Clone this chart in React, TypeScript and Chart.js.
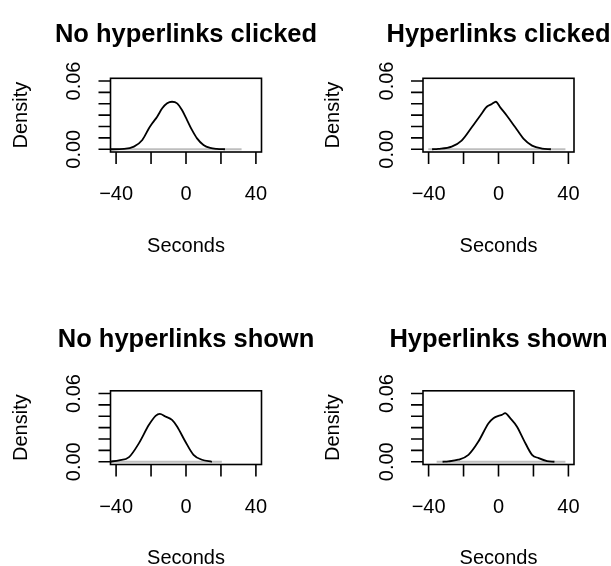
import React, { useEffect, useRef } from "react";
import { Chart, registerables } from "chart.js";

Chart.register(...registerables);

// ---- Data ----
const titles = ["No hyperlinks clicked", "Hyperlinks clicked", "No hyperlinks shown", "Hyperlinks shown"];
const xLabel = "Seconds";
const yLabel = "Density";
const xTicks = [-40, -20, 0, 20, 40];
const xTickLabels = ["\u221240", "", "0", "", "40"];
const yTicks = [0, 0.01, 0.02, 0.03, 0.04, 0.05, 0.06];
const yTickLabels = ["0.00", "", "", "", "", "", "0.06"];

const noClickX = [-43.5, -35.4, -29.8, -25.0, -21.2, -19.3, -16.5, -13.6, -10.8, -8.0, -5.1, -2.3, 0.6, 3.4, 6.3, 10.0, 13.8, 17.6, 22.3];
const noClickY = [0.0, 0.0003, 0.0023, 0.0082, 0.0184, 0.0228, 0.0287, 0.036, 0.0404, 0.0418, 0.0404, 0.0345, 0.0257, 0.017, 0.0096, 0.0038, 0.0012, 0.0003, 0.0];
const noClickZero = [-44, 31.8];

const clickX = [-38.0, -34.5, -26.8, -21.1, -15.3, -10.5, -6.7, -3.8, -1.5, 1.0, 4.8, 9.6, 14.4, 19.2, 24.9, 30.0];
const clickY = [0.0, 0.0003, 0.0023, 0.0076, 0.0193, 0.0295, 0.0374, 0.0398, 0.0418, 0.0368, 0.0295, 0.0193, 0.0091, 0.0032, 0.0006, 0.0];
const clickZero = [-40.2, 38.3];

const noShownX = [-43.5, -38.3, -32.6, -26.9, -21.2, -17.4, -15.0, -11.8, -8.0, -5.1, -0.4, 4.3, 9.1, 14.8];
const noShownY = [0.0002, 0.0012, 0.0041, 0.0164, 0.0325, 0.0404, 0.0421, 0.0398, 0.0368, 0.031, 0.0178, 0.0061, 0.0018, 0.0];
const noShownZero = [-44, 20.5];

const shownX = [-32.0, -28.7, -23.0, -17.2, -11.5, -5.7, -2.9, 0.0, 1.9, 3.8, 6.7, 10.5, 14.4, 19.2, 23.0, 27.8, 32.0];
const shownY = [0.0, 0.0003, 0.0018, 0.0061, 0.0178, 0.0339, 0.0383, 0.0404, 0.0412, 0.0427, 0.0383, 0.031, 0.0193, 0.0061, 0.0032, 0.0006, 0.0];
const shownZero = [-35.4, 38.3];

const seriesX = [noClickX, clickX, noShownX, shownX];
const seriesY = [noClickY, clickY, noShownY, shownY];
const zeroRanges = [noClickZero, clickZero, noShownZero, shownZero];

// ---- Layout ----
const W = 611;
const H = 566;
const colLeft = [110.5, 423];
const colRight = [261.5, 574];
const rowTop = [78.3, 390.8];
const rowBottom = [152, 464.5];
const FONT = "'Liberation Sans', Arial, Helvetica, sans-serif";
const TICK = 12;

const rPlot = {
  id: "rplot",
  afterDraw(chart: any, _args: any, opts: any) {
    const { ctx, chartArea: a, scales } = chart;
    const xs = scales.x;
    const ys = scales.y;
    ctx.save();
    ctx.strokeStyle = "#000";
    ctx.lineWidth = 1.6;
    ctx.strokeRect(a.left, a.top, a.right - a.left, a.bottom - a.top);
    ctx.beginPath();
    xTicks.forEach((v) => {
      const px = xs.getPixelForValue(v);
      ctx.moveTo(px, a.bottom);
      ctx.lineTo(px, a.bottom + TICK);
    });
    yTicks.forEach((v) => {
      const py = ys.getPixelForValue(v);
      ctx.moveTo(a.left, py);
      ctx.lineTo(a.left - TICK, py);
    });
    ctx.stroke();

    ctx.fillStyle = "#000";
    ctx.font = `20px ${FONT}`;
    ctx.textAlign = "center";
    ctx.textBaseline = "alphabetic";
    xTicks.forEach((v, i) => {
      if (xTickLabels[i]) ctx.fillText(xTickLabels[i], xs.getPixelForValue(v), a.bottom + 48);
    });
    ctx.fillText(xLabel, (a.left + a.right) / 2, a.bottom + 99.7);
    yTicks.forEach((v, i) => {
      if (!yTickLabels[i]) return;
      ctx.save();
      ctx.translate(a.left - 30.5, ys.getPixelForValue(v));
      ctx.rotate(-Math.PI / 2);
      ctx.fillText(yTickLabels[i], 0, 0);
      ctx.restore();
    });
    ctx.save();
    ctx.translate(a.left - 83.8, (a.top + a.bottom) / 2);
    ctx.rotate(-Math.PI / 2);
    ctx.fillText(yLabel, 0, 0);
    ctx.restore();

    ctx.font = `bold 25.5px ${FONT}`;
    ctx.fillText(opts.title, (a.left + a.right) / 2, opts.titleY);
    ctx.restore();
  },
};

function Panel({ idx }: { idx: number }) {
  const ref = useRef<HTMLCanvasElement>(null);
  useEffect(() => {
    const col = idx % 2;
    const row = Math.floor(idx / 2);
    const xsArr = seriesX[idx];
    const ysArr = seriesY[idx];
    const z = zeroRanges[idx];
    const chart = new Chart(ref.current as HTMLCanvasElement, {
      type: "line",
      data: {
        datasets: [
          {
            data: xsArr.map((x, i) => ({ x, y: ysArr[i] })),
            borderColor: "#000",
            borderWidth: 1.8,
            pointRadius: 0,
            cubicInterpolationMode: "monotone",
            fill: false,
          },
          {
            data: [
              { x: z[0], y: 0 },
              { x: z[1], y: 0 },
            ],
            borderColor: "#bebebe",
            borderWidth: 1.8,
            pointRadius: 0,
            fill: false,
          },
        ],
      },
      options: {
        animation: false,
        responsive: false,
        devicePixelRatio: 1,
        events: [],
        layout: {
          padding: {
            left: colLeft[col],
            right: W - colRight[col],
            top: rowTop[row],
            bottom: H - rowBottom[row],
          },
        },
        scales: {
          x: { type: "linear", min: -43.2, max: 43.2, display: false },
          y: { type: "linear", min: -0.0024, max: 0.0624, display: false },
        },
        plugins: {
          legend: { display: false },
          tooltip: { enabled: false },
          rplot: { title: titles[idx], titleY: row === 0 ? 41.7 : 347 },
        } as any,
      },
      plugins: [rPlot],
    } as any);
    return () => chart.destroy();
  }, [idx]);
  return (
    <canvas
      ref={ref}
      width={W}
      height={H}
      style={{ position: "absolute", left: 0, top: 0, width: W, height: H }}
    />
  );
}

export default function App() {
  return (
    <div
      style={{
        position: "fixed",
        left: 0,
        top: 0,
        width: W,
        height: H,
        overflow: "hidden",
        background: "#fff",
      }}
    >
      {[0, 1, 2, 3].map((i) => (
        <Panel key={i} idx={i} />
      ))}
    </div>
  );
}
